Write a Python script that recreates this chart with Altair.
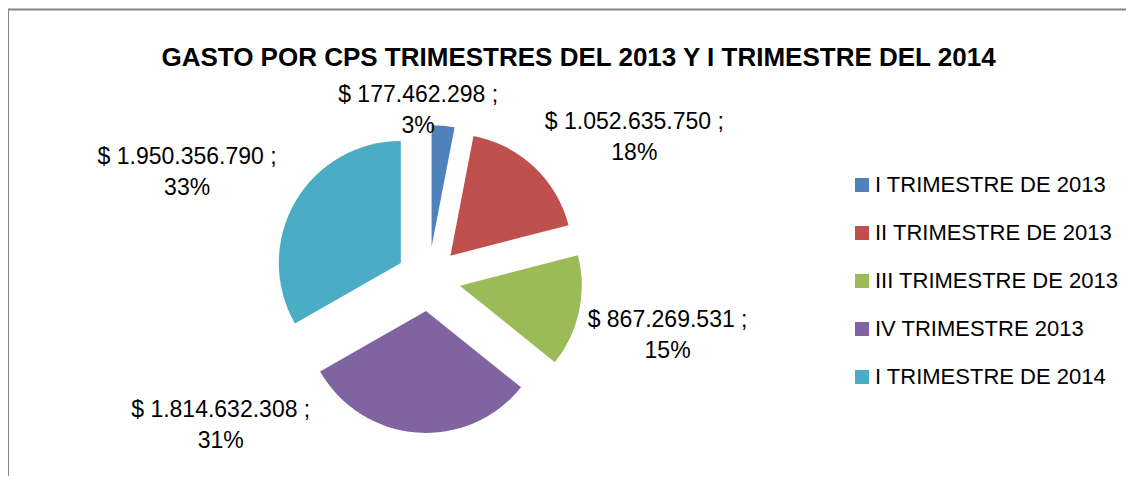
import math
import altair as alt
import pandas as pd

categories = ["I TRIMESTRE DE 2013", "II TRIMESTRE DE 2013", "III TRIMESTRE DE 2013",
              "IV TRIMESTRE 2013", "I TRIMESTRE DE 2014"]
values = [177462298, 1052635750, 867269531, 1814632308, 1950356790]
colors = ["#4F81BD", "#C0504D", "#9BBB59", "#8064A2", "#4BACC6"]
title_text = "GASTO POR CPS TRIMESTRES DEL 2013 Y I TRIMESTRE DEL 2014"

total = sum(values)


def money(v):
    return "$ " + f"{v:,}".replace(",", ".") + " ;"


labels = [money(v) + "|" + f"{round(v / total * 100)}%" for v in values]
df = pd.DataFrame({"cat": categories, "val": values, "order": list(range(len(values))), "lab": labels})

# layout (pixels, inner chart coordinates)
W, H = 1118, 468
CX, CY = 420.5, 271
R = 122
EXPLODE = 32
LABEL_R = 175
FONT = "Liberation Sans"
nudges = [(-27, -10), (86, -29), (68, 4), (-194, -43), (-90, -34)]

base = (
    alt.Chart(df)
    .transform_window(cum="sum(val)", sort=[alt.SortField("order")])
    .transform_joinaggregate(tot="sum(val)")
    .transform_calculate(start="(datum.cum - datum.val) / datum.tot", end="datum.cum / datum.tot")
    .transform_calculate(mid="PI * (datum.start + datum.end)")
    .transform_calculate(
        ex=f"{CX} + {EXPLODE} * sin(datum.mid)",
        ey=f"{CY} - {EXPLODE} * cos(datum.mid)",
        lx=f"{CX} + {LABEL_R} * sin(datum.mid)",
        ly=f"{CY} - {LABEL_R} * cos(datum.mid)",
        labarr="split(datum.lab, '|')",
    )
)

color = alt.Color(
    "cat:N",
    scale=alt.Scale(domain=categories, range=colors),
    sort=categories,
    legend=alt.Legend(
        orient="none", legendX=843, legendY=166, title=None, symbolType="square",
        symbolSize=196, symbolStrokeWidth=0, labelFontSize=22, labelFont=FONT,
        labelColor="#000000", rowPadding=26, labelOffset=2, labelLimit=400,
    ),
)

arcs = base.mark_arc(outerRadius=R).encode(
    theta=alt.Theta("start:Q", scale=alt.Scale(domain=[0, 1], range=[0, 2 * math.pi]), stack=None),
    theta2="end:Q",
    x=alt.X("ex:Q", scale=None),
    y=alt.Y("ey:Q", scale=None),
    color=color,
)

label_layers = []
for i, (dx, dy) in enumerate(nudges):
    label_layers.append(
        base.transform_filter(alt.datum.order == i)
        .mark_text(dx=dx, dy=dy, fontSize=23, font=FONT, lineHeight=31, align="center",
                   baseline="middle", color="#000000")
        .encode(x=alt.X("lx:Q", scale=None), y=alt.Y("ly:Q", scale=None), text="labarr:N")
    )

title = alt.Chart(pd.DataFrame({"t": [title_text]})).mark_text(
    fontSize=26, font=FONT, fontWeight="bold", align="center", baseline="middle", color="#000000"
).encode(text="t:N", x=alt.value(570.5), y=alt.value(49.5))

frame_df = pd.DataFrame({"k": [0]})
left_border = alt.Chart(frame_df).mark_rule(color="#868686", strokeWidth=2).encode(
    x=alt.value(0), y=alt.value(1), y2=alt.value(H)
)
top_border = alt.Chart(frame_df).mark_rule(color="#868686", strokeWidth=2).encode(
    x=alt.value(-1), x2=alt.value(W), y=alt.value(1.5)
)

chart = (
    alt.layer(arcs, *label_layers, title, left_border, top_border)
    .properties(width=W, height=H, padding=0, autosize=alt.AutoSizeParams(type="none"))
    .configure_view(strokeWidth=0)
)

chart.save("out.html", embed_options={"renderer": "svg", "actions": False})
